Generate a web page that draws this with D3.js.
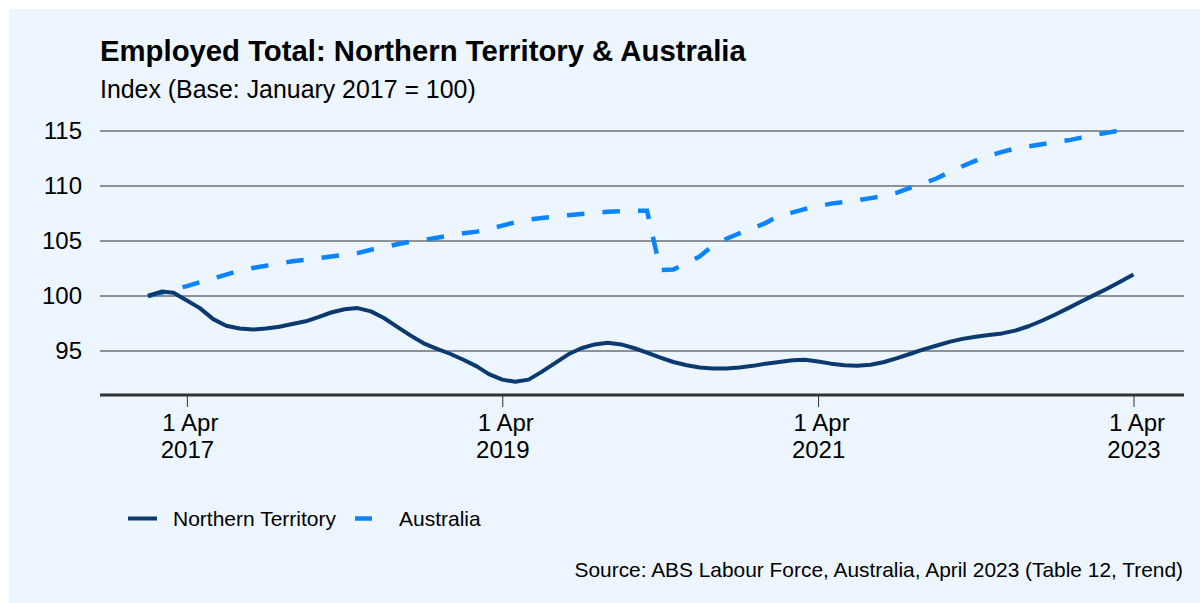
<!DOCTYPE html>
<html>
<head>
<meta charset="utf-8">
<script src="https://cdn.jsdelivr.net/npm/d3@7"></script>
<style>
    body { margin: 0; background: #ffffff; }
    #chart { width: 1200px; height: 603px; }
    text { font-family: "Liberation Sans", Arial, sans-serif; fill: #000; }
</style>
</head>
<body>
<div id="chart"></div>
<script>

// months Jan 2017 - Apr 2023
let months = [
    "2017-01","2017-02","2017-03","2017-04","2017-05","2017-06","2017-07","2017-08","2017-09","2017-10","2017-11","2017-12",
    "2018-01","2018-02","2018-03","2018-04","2018-05","2018-06","2018-07","2018-08","2018-09","2018-10","2018-11","2018-12",
    "2019-01","2019-02","2019-03","2019-04","2019-05","2019-06","2019-07","2019-08","2019-09","2019-10","2019-11","2019-12",
    "2020-01","2020-02","2020-03","2020-04","2020-05","2020-06","2020-07","2020-08","2020-09","2020-10","2020-11","2020-12",
    "2021-01","2021-02","2021-03","2021-04","2021-05","2021-06","2021-07","2021-08","2021-09","2021-10","2021-11","2021-12",
    "2022-01","2022-02","2022-03","2022-04","2022-05","2022-06","2022-07","2022-08","2022-09","2022-10","2022-11","2022-12",
    "2023-01","2023-02","2023-03","2023-04"
];

let ntValues = [
    100.0, 100.4, 100.3, 99.6, 98.9, 97.9, 97.3, 97.05, 96.95, 97.05, 97.2, 97.45,
    97.7, 98.1, 98.5, 98.8, 98.9, 98.6, 98.0, 97.2, 96.4, 95.7, 95.2, 94.75,
    94.2, 93.6, 92.9, 92.4, 92.2, 92.4, 93.1, 93.9, 94.7, 95.25, 95.6, 95.75,
    95.6, 95.25, 94.85, 94.4, 94.0, 93.7, 93.5, 93.4, 93.4, 93.5, 93.65, 93.85,
    94.0, 94.15, 94.2, 94.05, 93.85, 93.7, 93.65, 93.75, 94.0, 94.35, 94.75, 95.15,
    95.5, 95.85, 96.1, 96.3, 96.45, 96.6, 96.85, 97.25, 97.75, 98.3, 98.9, 99.5,
    100.1, 100.7, 101.3, 101.95
];

let ausValues = [
    100.0, 100.3, 100.6, 100.9, 101.25, 101.6, 101.95, 102.3, 102.55, 102.75, 102.95, 103.15,
    103.3, 103.45, 103.6, 103.75, 103.9, 104.2, 104.45, 104.7, 104.95, 105.1, 105.3, 105.5,
    105.7, 105.85, 106.1, 106.4, 106.7, 106.95, 107.1, 107.2, 107.35, 107.45, 107.55, 107.65,
    107.7, 107.75, 107.75, 102.35, 102.4, 103.0, 103.6, 104.6, 105.2, 105.7, 106.15, 106.65,
    107.3, 107.6, 107.9, 108.15, 108.4, 108.55, 108.7, 108.9, 109.1, 109.4, 109.85, 110.25,
    110.7, 111.3, 111.8, 112.3, 112.75, 113.1, 113.4, 113.6, 113.8, 114.0, 114.15, 114.4,
    114.65, 114.85, 115.05, 115.2
];

let yTicks = [95, 100, 105, 110, 115];
let xTicks = ["2017-04", "2019-04", "2021-04", "2023-04"];

let seriesNames = ["Northern Territory", "Australia"];
let seriesColors = ["#0a3a6f", "#0a84ff"];


class LineVis {

    constructor(parentElement) {
        this.parentElement = parentElement;
        this.initVis();
    }

    initVis() {
        let vis = this;
        let parse = d3.timeParse("%Y-%m");

        vis.svg = d3.select(vis.parentElement).append("svg")
            .attr("width", 1200)
            .attr("height", 603);

        // panel background
        vis.svg.append("rect")
            .attr("x", 9).attr("y", 9)
            .attr("width", 1191).attr("height", 594)
            .attr("fill", "#edf5fe");

        vis.svg.append("text")
            .attr("x", 100).attr("y", 61)
            .attr("font-size", 29.3)
            .attr("font-weight", "bold")
            .text("Employed Total: Northern Territory & Australia");

        vis.svg.append("text")
            .attr("x", 100).attr("y", 98)
            .attr("font-size", 24.9)
            .text("Index (Base: January 2017 = 100)");

        vis.xScale = d3.scaleTime()
            .domain([parse(months[0]), parse(months[months.length - 1])])
            .range([148, 1133.5]);

        vis.yScale = d3.scaleLinear()
            .domain([91, 115])
            .range([395, 131]);

        // gridlines
        vis.svg.append("g")
            .selectAll("line")
            .data(yTicks)
            .enter()
            .append("line")
            .attr("x1", 100).attr("x2", 1184)
            .attr("y1", d => vis.yScale(d)).attr("y2", d => vis.yScale(d))
            .attr("stroke", "#2e2e2e")
            .attr("stroke-width", 1);

        // y labels
        vis.yAxis = d3.axisLeft(vis.yScale)
            .tickValues(yTicks)
            .tickSize(0)
            .tickPadding(0);

        vis.svg.append("g")
            .attr("class", "y-axis axis")
            .attr("transform", "translate(82,0)")
            .call(vis.yAxis)
            .call(g => g.select(".domain").remove())
            .selectAll("text")
            .attr("font-size", 24)
            .attr("fill", "#000");

        // x axis
        vis.xAxis = d3.axisBottom(vis.xScale)
            .tickValues(xTicks.map(parse))
            .tickSize(12)
            .tickFormat("");

        let xg = vis.svg.append("g")
            .attr("class", "x-axis axis")
            .attr("transform", "translate(0,395)")
            .call(vis.xAxis);
        xg.select(".domain").remove();
        xg.selectAll(".tick line").attr("stroke", "#333").attr("stroke-width", 1);

        xg.selectAll(".tick")
            .append("text")
            .attr("text-anchor", "middle")
            .attr("font-size", 24)
            .attr("fill", "#000")
            .selectAll("tspan")
            .data(d => [d3.timeFormat("1 %b")(d), d3.timeFormat("%Y")(d)])
            .enter()
            .append("tspan")
            .attr("x", (d, i) => i === 0 ? 3 : 0)
            .attr("y", (d, i) => 36 + i * 26.5)
            .text(d => d);

        vis.svg.append("line")
            .attr("x1", 100).attr("x2", 1184)
            .attr("y1", 395).attr("y2", 395)
            .attr("stroke", "#333")
            .attr("stroke-width", 3);

        vis.wrangleData(parse);
    }

    wrangleData(parse) {
        let vis = this;
        vis.displayData = [ausValues, ntValues].map(vals =>
            vals.map((v, i) => ({date: parse(months[i]), value: v})));
        vis.updateVis();
    }

    updateVis() {
        let vis = this;

        let line = d3.line()
            .x(d => vis.xScale(d.date))
            .y(d => vis.yScale(d.value));

        // Australia dashed, drawn first
        let aus = vis.svg.append("path")
            .datum(vis.displayData[0])
            .attr("fill", "none")
            .attr("stroke", seriesColors[1])
            .attr("stroke-width", 4.5)
            .attr("d", line);

        // fit the dash period so the line ends on a gap like the original
        let dash = 17.5, tailGap = 17;
        let len = aus.node().getTotalLength();
        let n = Math.round((len - dash - tailGap) / 36);
        let period = (len - dash - tailGap) / n;
        aus.attr("stroke-dasharray", dash + "," + (period - dash));

        vis.svg.append("path")
            .datum(vis.displayData[1])
            .attr("fill", "none")
            .attr("stroke", seriesColors[0])
            .attr("stroke-width", 4)
            .attr("stroke-linejoin", "round")
            .attr("d", line);

        // legend
        let legend = vis.svg.append("g").attr("transform", "translate(0,518.5)");

        legend.append("line")
            .attr("x1", 128).attr("x2", 157)
            .attr("stroke", seriesColors[0]).attr("stroke-width", 4);
        legend.append("text")
            .attr("x", 173).attr("y", 7.5)
            .attr("font-size", 21)
            .text(seriesNames[0]);

        legend.append("line")
            .attr("x1", 355).attr("x2", 372)
            .attr("stroke", seriesColors[1]).attr("stroke-width", 4.5);
        legend.append("text")
            .attr("x", 399).attr("y", 7.5)
            .attr("font-size", 21)
            .text(seriesNames[1]);

        vis.svg.append("text")
            .attr("x", 1183).attr("y", 577)
            .attr("text-anchor", "end")
            .attr("font-size", 20.9)
            .text("Source: ABS Labour Force, Australia, April 2023 (Table 12, Trend)");
    }
}

new LineVis(document.getElementById("chart"));

</script>
</body>
</html>
